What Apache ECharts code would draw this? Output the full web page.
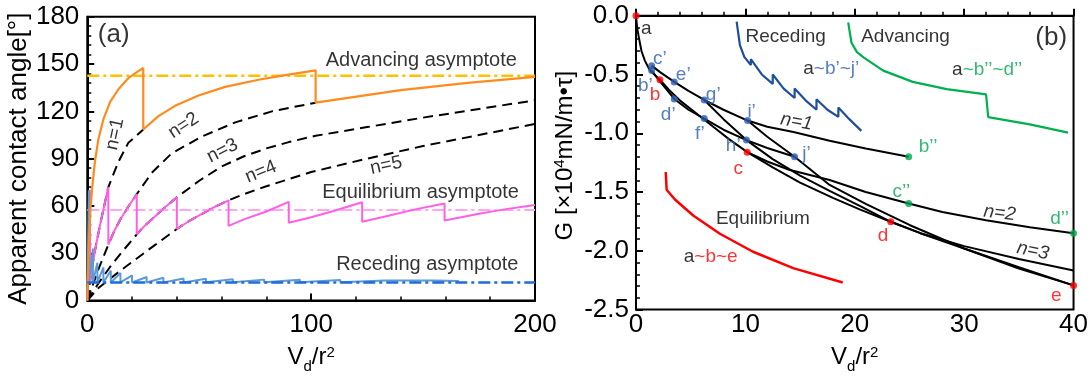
<!DOCTYPE html>
<html><head><meta charset="utf-8">
<script src="https://cdn.jsdelivr.net/npm/echarts@6/dist/echarts.min.js"></script>
<style>html,body{margin:0;padding:0;background:#fff}#c{width:1091px;height:379px}</style>
</head><body><div id="c"></div>
<script>
const F = '"Liberation Sans", Arial, Helvetica, sans-serif';
// ---------- Panel (a) ----------
const aXTicks = [0, 100, 200];
const aYTicks = [0, 30, 60, 90, 120, 150, 180];
const aOrange = [[0,0],[0.8,40],[1.4,58],[2.2,72],[3.4,88],[4.9,102],[7.2,115],[10.2,126],[13.9,134],[18.3,141],[22.8,145.5],[25,147.5],[25,108.5],[31.8,117],[39.2,123.5],[49.7,130],[61.6,135.5],[76.5,140],[88.5,143],[102,146],[102,125.5],[140,133.5],[170,138],[200,141.8]];
const aN2 = [[0,0],[1,10],[2,20],[4,36],[6,50],[9.4,72],[13.9,88],[18.3,100],[25,108.5]];
const aN3 = [[0,0],[2,8],[5,20],[9.4,35.5],[12,44],[15,52],[18.5,60],[22.1,67.5],[28.8,81],[37.8,93.5],[51.2,104],[66.1,113],[82.5,120],[102,125.5]];
const aN4 = [[0,0],[5,11],[10,21],[15,30],[22.1,42],[26,48],[30,53],[35,59.5],[40,65.5],[50,76],[60,85],[70,91.5],[80,96.5],[90,100.5],[102,104.5],[125,110],[150,116],[175,121.5],[200,127]];
const aN5 = [[0,0],[5,8],[13.9,18],[20,24.5],[30,35],[40,45.4],[45,50],[50,54],[56,58.8],[63.1,63.6],[70,67.5],[80,72.5],[90,77],[100,81.5],[125,90],[150,98],[175,105],[200,112]];
const aPink = [[0,0],[1.2,70],[1.2,11.5],[2,20],[4,36],[6,50],[9.4,72],[9.4,35.5],[12,44],[15,52],[18.5,60],[22.1,67.5],[22.1,42],[26,48],[30,53],[35,59.5],[40,65.5],[40,45.4],[45,50],[50,54],[56,58.8],[63.1,63.6],[63.1,47.4],[70,51.5],[80,56.5],[90,62.6],[90,49.4],[100,52.8],[110,56.8],[122.8,62.4],[122.8,50],[135,54],[147,58],[159.6,61.6],[159.6,50.8],[175,55],[187,58],[200,60.6]];
const aBlue = [[0,0],[0.7,70],[0.7,11],[2.5,33],[2.5,11.5],[4.5,24],[4.5,11.5],[7.2,21],[7.2,11.5],[10.5,19],[10.5,11.5],[14.8,17.5],[14.8,11.5],[20,16],[20,11.5],[26.5,15],[26.5,11.5],[34,14.5],[34,11.5],[43,14],[43,11.5],[53,13.8],[53,11.6],[65,13.5],[65,11.6],[79,13.3],[79,11.6],[95,13.2],[95,11.7],[113,13],[113,11.7],[133,12.8],[133,11.8],[155,12.7],[155,11.8],[166,12.5]];
const aAdvAsym = [[0,142.5],[200,142.5]];
const aEqAsym = [[0,57.5],[200,57.5]];
const aRecAsym = [[0,11.4],[200,11.4]];
// text annotations: [x, y, text, rotate(deg), fontSize]
const aTexts = [
  [11.8,168.5,'(a)',0,26],
  [149.2,152.3,'Advancing asymptote',0,20],
  [148.9,68.8,'Equilibrium asymptote',0,20],
  [151.9,22.6,'Receding asymptote',0,20],
  [12.4,105.6,'n=1',78,19],
  [43,111,'n=2',33,19],
  [60.4,95,'n=3',27,19],
  [77.6,81.6,'n=4',22,19],
  [133.5,85.6,'n=5',12,19]
];
// ---------- Panel (b) ----------
const bXTicks = [0, 10, 20, 30, 40];
const bYTicks = [-2.5, -2.0, -1.5, -1.0, -0.5, 0.0];
const bEnv = [[0,0],[0.1,-0.1],[0.25,-0.18],[0.5,-0.3],[0.8,-0.38],[1.12,-0.44],[1.43,-0.48],[2.19,-0.544],[3,-0.63],[4,-0.72],[5.5,-0.83],[7,-0.94],[8.5,-1.05],[10.17,-1.161],[12.5,-1.29],[15,-1.42],[18,-1.55],[20.5,-1.65],[23.29,-1.753],[26,-1.85],[30,-1.98],[35,-2.14],[40,-2.294]];
const bN1 = [[1.43,-0.425],[2.2,-0.48],[3.5,-0.563],[4.8,-0.64],[6.24,-0.717],[8,-0.8],[10.2,-0.892],[12,-0.945],[14.4,-0.99],[17.7,-1.063],[21,-1.13],[24.93,-1.2]];
const bLow = [[1.43,-0.467],[2.2,-0.56],[3.5,-0.708],[4.8,-0.8],[6.24,-0.875],[8,-0.97],[10.1,-1.058],[12,-1.125],[14.5,-1.2]];
const bS3 = [[6.24,-0.717],[8,-0.88],[10.1,-1.058],[12.5,-1.22],[15,-1.36],[17.7,-1.49],[20.5,-1.62],[23.29,-1.753]];
const bN2 = [[10.17,-1.161],[12,-1.24],[14,-1.31],[17.7,-1.397],[21,-1.5],[24.93,-1.597],[28,-1.67],[32,-1.74],[36,-1.8],[40,-1.85]];
const bN3 = [[23.29,-1.753],[26,-1.85],[30,-1.96],[35,-2.07],[40,-2.167]];
const bSteep = [[10.2,-0.892],[12,-1.03],[14.5,-1.2],[17.7,-1.44],[21,-1.6],[25,-1.78],[30,-1.98],[35,-2.15],[40,-2.294]];
const bRec = [[9.2,-0.05],[9.5,-0.25],[9.9,-0.35],[10.5,-0.42],[10.5,-0.37],[11.5,-0.5],[12.5,-0.58],[12.5,-0.5],[13.5,-0.62],[14.5,-0.7],[14.5,-0.62],[15.5,-0.72],[16.5,-0.8],[16.5,-0.71],[17.5,-0.8],[18.5,-0.86],[18.5,-0.78],[19.5,-0.88],[20.6,-0.98]];
const bAdv = [[19.4,-0.058],[19.7,-0.23],[20.2,-0.31],[20.8,-0.355],[22.6,-0.467],[25.3,-0.563],[28.4,-0.625],[32,-0.669],[32.2,-0.863],[36,-0.925],[39.5,-0.994]];
const bEq = [[2.72,-1.33],[2.8,-1.48],[3.56,-1.563],[5.23,-1.7],[7.67,-1.855],[10.7,-2.008],[14.37,-2.147],[18.9,-2.27]];
const bRedDots = [[0,0],[2.19,-0.544],[10.17,-1.161],[23.29,-1.753],[40,-2.294]];
const bBlueDots = [[1.43,-0.425],[1.43,-0.467],[3.5,-0.563],[3.5,-0.708],[6.24,-0.717],[6.24,-0.875],[10.2,-0.892],[10.1,-1.058],[14.5,-1.2]];
const bGreenDots = [[24.93,-1.2],[24.93,-1.597],[40,-1.85]];
// [x, y, text, color key, rotate, fontSize, italic]
const bTexts = [
  [37.96,-0.188,'(b)','k',0,26,0],
  [13.68,-0.175,'Receding','k',0,19,0],
  [24.64,-0.175,'Advancing','k',0,19,0],
  [17.85,-0.4525,'{k|a}{B|~b’~j’}','r',0,19,0],
  [32.1,-0.458,'{k|a}{G|~b’’~d’’}','r',0,19,0],
  [11.6,-1.7275,'Equilibrium','k',0,19,0],
  [6.83,-2.05,'{k|a}{R|~b~e}','r',0,19,0],
  [0.95,-0.113,'a','k',0,19,0],
  [2.19,-0.369,'c’','B',0,19,0],
  [0.85,-0.597,'b’','B',0,19,0],
  [1.74,-0.675,'b','R',0,19,0],
  [4.32,-0.5025,'e’','B',0,19,0],
  [2.95,-0.842,'d’','B',0,19,0],
  [7.06,-0.675,'g’','B',0,19,0],
  [5.84,-1.008,'f’','B',0,19,0],
  [10.57,-0.813,'i’','B',0,19,0],
  [8.89,-1.105,'h’','B',0,19,0],
  [9.34,-1.3,'c','R',0,19,0],
  [15.59,-1.175,'j’','B',0,19,0],
  [26.7,-1.119,'b’’','G',0,19,0],
  [24.26,-1.494,'c’’','G',0,19,0],
  [38.72,-1.73,'d’’','G',0,19,0],
  [22.58,-1.869,'d','R',0,19,0],
  [38.42,-2.383,'e','R',0,19,0],
  [14.68,-0.9025,'n=1','k',-10,19,1],
  [33.24,-1.68,'n=2','k',-7,19,1],
  [36.28,-2.0,'n=3','k',-12,19,1]
];
const COL = {k:'#000000', R:'#FF0000', B:'#2A5CB0', G:'#00A84F'};

const tickStyle = {inside:true,length:7,lineStyle:{color:'#000',width:2}};
const minorStyle = {show:true,splitNumber:5,length:4,lineStyle:{color:'#000',width:1.5}};
const axisLine = {show:true,lineStyle:{color:'#000',width:2}};
const richX = {
  v:{fontSize:24,height:30,lineHeight:30,verticalAlign:'middle',fontFamily:F,color:'#000'},
  d:{fontSize:15,height:12,lineHeight:12,verticalAlign:'bottom',fontFamily:F,color:'#000'},
  s:{fontSize:15,height:20,lineHeight:20,verticalAlign:'top',fontFamily:F,color:'#000'}
};
const xName = '{v|V}{d|d}{v|/r}{s|2}';

function lineS(xi, data, color, width, type, z) {
  return {type:'line', xAxisIndex:xi, yAxisIndex:xi, data, showSymbol:false, symbol:'none',
    lineStyle:{color, width, type: type || 'solid'}, silent:true, z: z || 2, animation:false};
}
function textSeries(xi, items) {
  return {type:'scatter', xAxisIndex:xi, yAxisIndex:xi, symbolSize:0, silent:true, z:10,
    itemStyle:{color:'transparent'}, animation:false,
    data: items};
}
const aTextData = aTexts.map(t => ({value:[t[0],t[1]], label:{show:true, position:'inside', formatter:t[2], rotate:t[3], fontSize:t[4], fontFamily:F, color:'#000'}}));
const richB = {
  k:{color:COL.k,fontSize:19,fontFamily:F},
  R:{color:COL.R,fontSize:19,fontFamily:F},
  B:{color:COL.B,fontSize:19,fontFamily:F},
  G:{color:COL.G,fontSize:19,fontFamily:F}
};
const bTextData = bTexts.map(t => ({value:[t[0],t[1]], label:{show:true, position:'inside', formatter:t[2], rotate:t[4], fontSize:t[5], fontFamily:F, fontStyle: t[6] ? 'italic' : 'normal', color:COL[t[3]] || '#000', rich: t[2].indexOf('{')===0 ? richB : undefined}}));

const dashBlack = [10,6];
const dashDot = [12,4,3,4];

const option = {
  animation:false,
  backgroundColor:'#fff',
  grid:[
    {left:87.3, top:16.7, width:447.7, height:300, show:true, borderColor:'#000', borderWidth:2, backgroundColor:'transparent'},
    {left:636, top:15.7, width:438.3, height:299.3, show:true, borderColor:'#000', borderWidth:2, backgroundColor:'transparent'}
  ],
  xAxis:[
    {gridIndex:0, type:'value', min:aXTicks[0], max:aXTicks[aXTicks.length-1], interval:aXTicks[1]-aXTicks[0],
     axisLine, axisTick:tickStyle, minorTick:minorStyle, splitLine:{show:false},
     axisLabel:{color:'#000', fontSize:26, fontFamily:F, margin:11},
     name:xName, nameLocation:'middle', nameGap:27, nameTextStyle:{rich:richX}},
    {gridIndex:1, type:'value', min:bXTicks[0], max:bXTicks[bXTicks.length-1], interval:bXTicks[1]-bXTicks[0],
     axisLine, axisTick:tickStyle, minorTick:minorStyle, splitLine:{show:false},
     axisLabel:{color:'#000', fontSize:26, fontFamily:F, margin:2},
     name:xName, nameLocation:'middle', nameGap:27, nameTextStyle:{rich:richX}}
  ],
  yAxis:[
    {gridIndex:0, type:'value', min:aYTicks[0], max:aYTicks[aYTicks.length-1], interval:aYTicks[1]-aYTicks[0],
     axisLine, axisTick:tickStyle, minorTick:minorStyle, splitLine:{show:false},
     axisLabel:{color:'#000', fontSize:26, fontFamily:F, margin:8},
     name:'Apparent contact angle[°]', nameLocation:'middle', nameGap:48,
     nameTextStyle:{color:'#000', fontSize:26, fontFamily:F}},
    {gridIndex:1, type:'value', min:bYTicks[0], max:bYTicks[bYTicks.length-1], interval:0.5,
     axisLine, axisTick:tickStyle, minorTick:minorStyle, splitLine:{show:false},
     axisLabel:{color:'#000', fontSize:26, fontFamily:F, margin:7, formatter:v => (Math.abs(v)<1e-9 ? '0.0' : v.toFixed(1))},
     name:'{t|G [×10}{s|4}{t|mN/m•τ]}', nameLocation:'middle', nameGap:43,
     nameTextStyle:{padding:[0,0,0,14], rich:{
       t:{fontSize:24,height:30,lineHeight:30,verticalAlign:'middle',fontFamily:F,color:'#000'},
       s:{fontSize:15,height:20,lineHeight:20,verticalAlign:'top',fontFamily:F,color:'#000'}}}}
  ],
  series:[
    lineS(0, aN2, '#000', 2, dashBlack, 2),
    lineS(0, aN3, '#000', 2, dashBlack, 2),
    lineS(0, aN4, '#000', 2, dashBlack, 2),
    lineS(0, aN5, '#000', 2, dashBlack, 2),
    lineS(0, aAdvAsym, '#FFC000', 2.5, dashDot, 3),
    lineS(0, aEqAsym, '#FFA6F2', 2, dashDot, 3),
    lineS(0, aPink, '#FF5FE6', 2, 'solid', 4),
    lineS(0, aBlue, '#5B9BD5', 2, 'solid', 4),
    lineS(0, aOrange, '#FF8A1E', 2.2, 'solid', 5),
    lineS(0, aRecAsym, '#1F6BE0', 2.5, dashDot, 6),
    textSeries(0, aTextData),
    lineS(1, bEnv, '#000', 2, 'solid', 2),
    lineS(1, bN1, '#000', 2, 'solid', 2),
    lineS(1, bLow, '#000', 2, 'solid', 2),
    lineS(1, bS3, '#000', 2, 'solid', 2),
    lineS(1, bN2, '#000', 2, 'solid', 2),
    lineS(1, bN3, '#000', 2, 'solid', 2),
    lineS(1, bSteep, '#000', 2, 'solid', 2),
    lineS(1, bRec, '#1F4E9E', 2.2, 'solid', 3),
    lineS(1, bAdv, '#00B04F', 2.2, 'solid', 3),
    lineS(1, bEq, '#FF0000', 2.5, 'solid', 3),
    {type:'scatter', xAxisIndex:1, yAxisIndex:1, data:bRedDots, symbolSize:7, itemStyle:{color:'#FF0000'}, z:8, silent:true, clip:false},
    {type:'scatter', xAxisIndex:1, yAxisIndex:1, data:bBlueDots, symbolSize:7, itemStyle:{color:'#2A5CB0'}, z:8, silent:true, clip:false},
    {type:'scatter', xAxisIndex:1, yAxisIndex:1, data:bGreenDots, symbolSize:7, itemStyle:{color:'#00A84F'}, z:8, silent:true, clip:false},
    textSeries(1, bTextData)
  ]
};
const chart = echarts.init(document.getElementById('c'), null, {renderer:'canvas'});
chart.setOption(option);
</script></body></html>
